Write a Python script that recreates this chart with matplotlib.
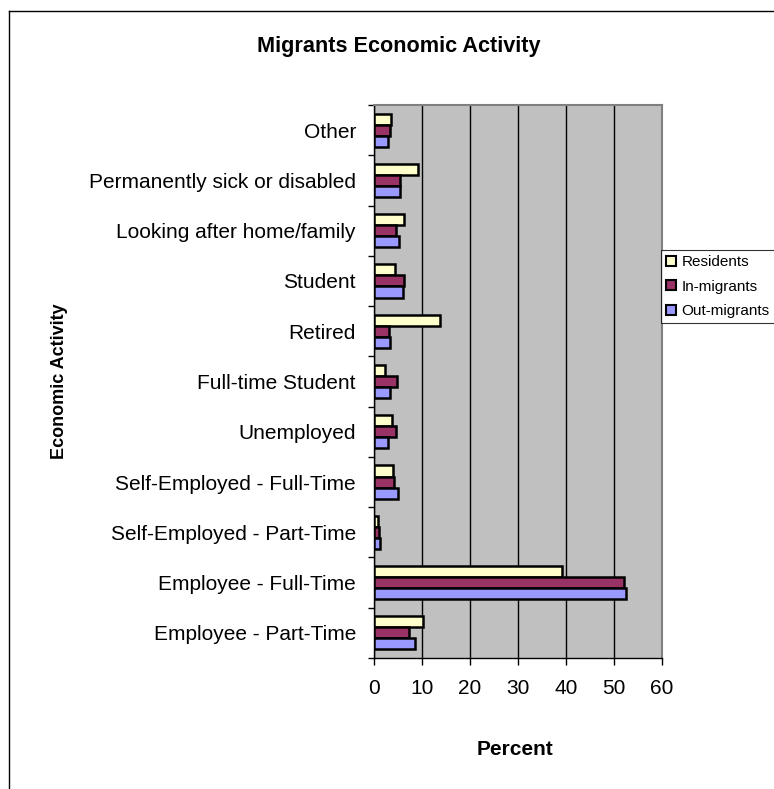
import matplotlib
matplotlib.use("Agg")
import matplotlib.pyplot as plt
import numpy as np
from matplotlib.lines import Line2D
from matplotlib.ticker import FixedLocator

categories = ["Employee - Part-Time", "Employee - Full-Time", "Self-Employed - Part-Time",
              "Self-Employed - Full-Time", "Unemployed", "Full-time Student", "Retired",
              "Student", "Looking after home/family", "Permanently sick or disabled", "Other"]
residents = [10.2, 39.1, 0.75, 3.9, 3.75, 2.2, 13.75, 4.4, 6.2, 9.2, 3.5]
in_migrants = [7.35, 52.1, 1.0, 4.1, 4.5, 4.7, 3.2, 6.3, 4.5, 5.5, 3.3]
out_migrants = [8.6, 52.6, 1.2, 5.1, 3.0, 3.25, 3.4, 6.0, 5.2, 5.5, 3.0]
series_names = ["Residents", "In-migrants", "Out-migrants"]
x_ticks = [0, 10, 20, 30, 40, 50, 60]

plt.rcParams['font.family'] = ['Liberation Sans', 'DejaVu Sans']

fig = plt.figure(figsize=(7.74, 7.89), dpi=100)
ax = fig.add_axes([374/774, 1 - 658/789, 288/774, 553/789])
ax.set_facecolor('#C0C0C0')

y = np.arange(len(categories))
h = 0.22
colors = ['#FFFFCC', '#993366', '#9999FF']
offsets = [h, 0, -h]
for vals, c, off, name in zip([residents, in_migrants, out_migrants], colors, offsets, series_names):
    ax.barh(y + off, vals, height=h, color=c, edgecolor='black', linewidth=1.8, label=name, zorder=3)

ax.set_xlim(0, 60)
ax.set_ylim(-0.5, len(categories) - 0.5)
ax.set_xticks(x_ticks)
ax.set_xticklabels([str(t) for t in x_ticks], fontsize=15)
ax.set_yticks(y)
ax.set_yticklabels(categories, fontsize=15)
ax.yaxis.set_minor_locator(FixedLocator(np.arange(-0.5, len(categories), 1.0)))
ax.tick_params(axis='y', which='major', length=0, pad=13)
ax.tick_params(axis='y', which='minor', length=4, width=1, direction='out')
ax.tick_params(axis='x', which='major', length=5, width=1, direction='out', pad=10)
ax.xaxis.grid(True, color='black', linewidth=1.0, zorder=1)
ax.set_axisbelow(True)

for s in ['top', 'right']:
    ax.spines[s].set_color('#808080')
    ax.spines[s].set_linewidth(1.5)
for s in ['left', 'bottom']:
    ax.spines[s].set_color('black')
    ax.spines[s].set_linewidth(1.0)

fig.text(515/774, 1 - 755/789, 'Percent', fontsize=15, fontweight='bold',
         ha='center', va='baseline')
fig.text(60/774, 1 - 381/789, 'Economic Activity', rotation=90, fontsize=13,
         fontweight='bold', ha='center', va='center')
fig.text(399/774, 1 - 52/789, 'Migrants Economic Activity', fontsize=15.6,
         fontweight='bold', ha='center', va='baseline')

handles = [plt.Rectangle((0, 0), 1, 1, facecolor=c, edgecolor='black', linewidth=1.5) for c in colors]
leg = fig.legend(handles, series_names, loc='upper left',
                 bbox_to_anchor=(661/774, 1 - 250/789), fontsize=11,
                 frameon=True, fancybox=False, edgecolor='black', handlelength=0.6,
                 handleheight=0.6, handletextpad=0.4, borderpad=0.35, labelspacing=0.68,
                 borderaxespad=0)
leg.get_frame().set_linewidth(0.8)

fig.add_artist(Line2D([8.5/774, 8.5/774], [0, 1 - 11/789], color='black', linewidth=1.0))
fig.add_artist(Line2D([8.5/774, 1], [1 - 11/789, 1 - 11/789], color='black', linewidth=1.0))

fig.savefig('out.png', dpi=100)
